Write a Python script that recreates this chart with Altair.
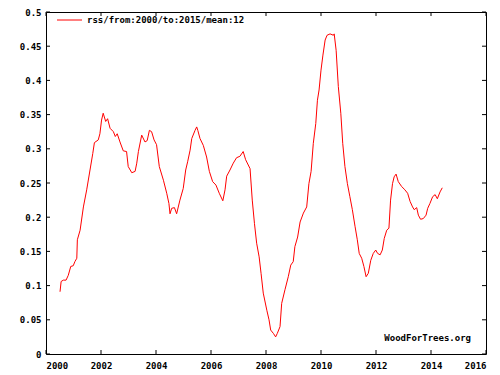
import altair as alt
import pandas as pd

years = [2000.51, 2000.55, 2000.63, 2000.73, 2000.81, 2000.90, 2000.99, 2001.05, 2001.12, 2001.14,
         2001.24, 2001.36, 2001.48, 2001.60, 2001.70, 2001.76, 2001.90, 2001.96, 2002.02, 2002.08,
         2002.17, 2002.24, 2002.33, 2002.45, 2002.52, 2002.59, 2002.69, 2002.81, 2002.93, 2002.99,
         2003.12, 2003.24, 2003.30, 2003.36, 2003.48, 2003.60, 2003.68, 2003.76, 2003.84, 2003.93,
         2004.02, 2004.12, 2004.27, 2004.39, 2004.47, 2004.51, 2004.57, 2004.67, 2004.75, 2004.87,
         2004.99, 2005.08, 2005.15, 2005.24, 2005.30, 2005.42, 2005.48, 2005.52, 2005.60, 2005.72,
         2005.84, 2005.94, 2006.06, 2006.18, 2006.30, 2006.43, 2006.51, 2006.57, 2006.69, 2006.81,
         2006.93, 2007.05, 2007.17, 2007.26, 2007.42, 2007.50, 2007.58, 2007.66, 2007.75, 2007.82,
         2007.90, 2008.03, 2008.11, 2008.17, 2008.27, 2008.35, 2008.41, 2008.51, 2008.57, 2008.69,
         2008.81, 2008.90, 2008.99, 2009.05, 2009.15, 2009.24, 2009.36, 2009.48, 2009.56, 2009.64,
         2009.72, 2009.81, 2009.87, 2009.93, 2010.00, 2010.07, 2010.15, 2010.22, 2010.33, 2010.45,
         2010.48, 2010.55, 2010.63, 2010.72, 2010.79, 2010.87, 2010.96, 2011.05, 2011.14, 2011.24,
         2011.32, 2011.39, 2011.48, 2011.56, 2011.64, 2011.72, 2011.81, 2011.90, 2011.99, 2012.06,
         2012.15, 2012.23, 2012.30, 2012.39, 2012.47, 2012.53, 2012.60, 2012.66, 2012.73, 2012.81,
         2012.93, 2013.05, 2013.15, 2013.24, 2013.33, 2013.39, 2013.48, 2013.54, 2013.62, 2013.72,
         2013.82, 2013.88, 2013.96, 2014.06, 2014.15, 2014.23, 2014.33, 2014.41]

values = [0.091, 0.106, 0.108, 0.108, 0.115, 0.128, 0.129, 0.135, 0.140, 0.167,
          0.181, 0.215, 0.240, 0.269, 0.293, 0.309, 0.313, 0.322, 0.342, 0.352,
          0.340, 0.344, 0.330, 0.325, 0.318, 0.322, 0.310, 0.297, 0.296, 0.274,
          0.265, 0.267, 0.279, 0.296, 0.320, 0.310, 0.312, 0.327, 0.325, 0.313,
          0.306, 0.274, 0.254, 0.235, 0.220, 0.205, 0.213, 0.214, 0.205, 0.225,
          0.242, 0.269, 0.281, 0.298, 0.315, 0.327, 0.332, 0.327, 0.315, 0.305,
          0.288, 0.267, 0.252, 0.247, 0.235, 0.224, 0.240, 0.260, 0.269, 0.279,
          0.287, 0.289, 0.296, 0.284, 0.271, 0.225, 0.191, 0.162, 0.142, 0.118,
          0.089, 0.064, 0.050, 0.035, 0.030, 0.025, 0.030, 0.040, 0.074, 0.094,
          0.113, 0.130, 0.135, 0.157, 0.171, 0.193, 0.206, 0.215, 0.249, 0.267,
          0.308, 0.337, 0.371, 0.386, 0.415, 0.437, 0.459, 0.466, 0.468, 0.466,
          0.468, 0.444, 0.391, 0.352, 0.308, 0.274, 0.249, 0.230, 0.211, 0.186,
          0.167, 0.147, 0.140, 0.128, 0.113, 0.118, 0.137, 0.147, 0.152, 0.147,
          0.145, 0.152, 0.169, 0.181, 0.184, 0.225, 0.249, 0.259, 0.263, 0.252,
          0.245, 0.240, 0.235, 0.223, 0.215, 0.211, 0.214, 0.203, 0.197, 0.198,
          0.203, 0.213, 0.220, 0.230, 0.233, 0.227, 0.237, 0.243]

x_ticks = [2000, 2002, 2004, 2006, 2008, 2010, 2012, 2014, 2016]
y_ticks = [0, 0.05, 0.1, 0.15, 0.2, 0.25, 0.3, 0.35, 0.4, 0.45, 0.5]
legend_label = ["rss/from:2000/to:2015/mean:12"]
watermark = ["WoodForTrees.org"]

W, H = 440, 342
FONT = "DejaVu Sans Mono"

df = pd.DataFrame({"year": years, "value": values})
xt = pd.DataFrame({"year": x_ticks})
yt = pd.DataFrame({"value": y_ticks})

x_scale = alt.Scale(domain=[2000, 2016], nice=False, zero=False)
y_scale = alt.Scale(domain=[0, 0.5], nice=False)
x_axis = alt.Axis(values=x_ticks, format="d", title=None, grid=False, domain=False,
                  ticks=False, labelPadding=7, labelFont=FONT, labelFontSize=9,
                  labelFontWeight="bold", labelColor="black")
y_axis = alt.Axis(values=y_ticks, format="~g", title=None, grid=False, domain=False,
                  ticks=False, labelPadding=5, labelFont=FONT, labelFontSize=9,
                  labelFontWeight="bold", labelColor="black")

X = alt.X("year:Q", scale=x_scale, axis=x_axis)
Y = alt.Y("value:Q", scale=y_scale, axis=y_axis)

line = alt.Chart(df).mark_line(color="#ff0000", strokeWidth=1).encode(x=X, y=Y)

ytick_l = alt.Chart(yt).mark_rule(color="black", strokeWidth=1).encode(
    y=Y, x=alt.value(0), x2=alt.value(4))
ytick_r = alt.Chart(yt).mark_rule(color="black", strokeWidth=1).encode(
    y=Y, x=alt.value(W - 4), x2=alt.value(W))
xtick_b = alt.Chart(xt).mark_rule(color="black", strokeWidth=1).encode(
    x=X, y=alt.value(H - 4), y2=alt.value(H))
xtick_t = alt.Chart(xt).mark_rule(color="black", strokeWidth=1).encode(
    x=X, y=alt.value(0), y2=alt.value(4))

leg_df = pd.DataFrame({"label": legend_label})
leg_line = alt.Chart(leg_df).mark_rule(color="#ff0000", strokeWidth=1).encode(
    x=alt.value(11), x2=alt.value(36), y=alt.value(8))
leg_text = alt.Chart(leg_df).mark_text(
    align="left", baseline="middle", font=FONT, fontSize=9, fontWeight="bold", color="black"
).encode(x=alt.value(41), y=alt.value(8), text="label:N")

wm_df = pd.DataFrame({"label": watermark})
wm_text = alt.Chart(wm_df).mark_text(
    align="right", baseline="middle", font=FONT, fontSize=9, fontWeight="bold", color="black"
).encode(x=alt.value(425), y=alt.value(326), text="label:N")

chart = alt.layer(line, ytick_l, ytick_r, xtick_b, xtick_t, leg_line, leg_text, wm_text).properties(
    width=W, height=H,
    autosize=alt.AutoSizeParams(type="none"),
    padding={"left": 38, "top": 4, "right": 6, "bottom": 20},
    background="white",
).configure_view(stroke="black", strokeWidth=1)

chart.save("out.html", embed_options={"renderer": "svg", "actions": False})
